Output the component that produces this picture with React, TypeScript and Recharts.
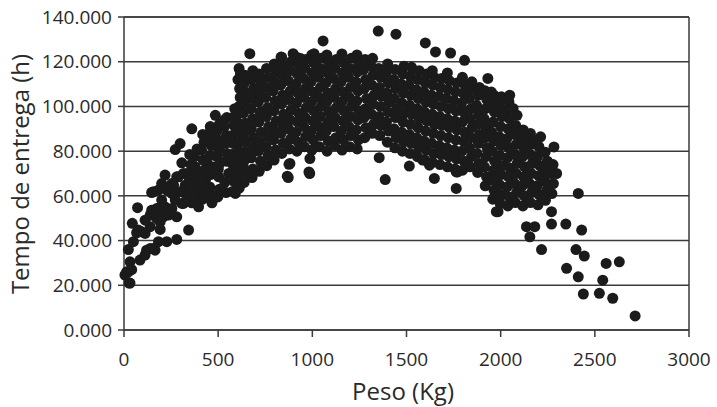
import React from 'react';
import { ScatterChart, Scatter, XAxis, YAxis, CartesianGrid, ReferenceLine, Label } from 'recharts';

type Pt = [number, number];

// peso (kg), tempo de entrega (h)
const risingArm: Pt[] = [
  [5, 24.6], [14, 26], [23, 26], [27, 21], [32, 21], [41, 27], [32, 30.5], [23, 36], [50, 39.5], [44, 47.7],
  [67, 43.5], [72, 54.7], [85, 31.3], [112, 33.5], [112, 43.2], [94, 43.9], [120, 35.7], [139, 36.5], [139, 46.2],
  [156, 36.5], [165, 35.7], [183, 39.5], [192, 48.4], [192, 45], [183, 50.6], [174, 54.4], [218, 55.1], [227, 39.5],
  [236, 51.4], [254, 54.4], [280, 50.6], [280, 40.5], [147, 61.5], [183, 62.6], [263, 64.8], [218, 69.3], [298, 83.4],
  [272, 80.7], [289, 68.5], [307, 74.8], [334, 70], [343, 44.7], [316, 56.6], [360, 56.9], [396, 55.1], [467, 56.9],
  [156, 61.8], [254, 61.1], [298, 61.8], [325, 64.8], [352, 70], [414, 70.7], [369, 57.3], [307, 56.6], [209, 50.6],
  [236, 52.1], [174, 49.9], [200, 58.1], [272, 58.1], [227, 62.6], [334, 59.6], [396, 61.1], [432, 67], [503, 68.5],
  [556, 70], [573, 74.5], [503, 73.7], [440, 74.5], [378, 73], [316, 70], [280, 68.5], [254, 65.5], [200, 65.5],
  [183, 54.4], [147, 53.6], [139, 51.4], [112, 49.1], [76, 44.7], [360, 90], [458, 91], [485, 96], [534, 94],
];

const leftBand: Pt[] = [
  [352, 62], [346, 66.5], [356, 74], [349, 78.5],
  [378, 60], [386, 64.5], [381, 69], [374, 77.5], [388, 81],
  [418, 58.5], [424, 62], [414, 66], [427, 71.5], [420, 76], [412, 80.5], [425, 84], [418, 87.5],
  [462, 60.5], [455, 64], [460, 69.5], [467, 73], [457, 78], [464, 82.5], [453, 86], [461, 89.5],
  [498, 59.5], [507, 63], [501, 72], [494, 77.5], [505, 81], [499, 85], [493, 89], [506, 92],
  [542, 61.5], [535, 66], [541, 75.5], [547, 79], [538, 83.5], [544, 87], [533, 91], [546, 95],
  [577, 62], [585, 66.5], [580, 71], [574, 75.5], [586, 79], [579, 83.5], [573, 87], [584, 91.5], [577, 95], [588, 99],
  [612, 63.5], [604, 68], [609, 72.5], [616, 76], [605, 80.5], [613, 84], [607, 88.5], [615, 92], [603, 96.5],
  [611, 100], [617, 104], [605, 112], [611, 117],
];

const coreLeft: Pt[] = [
  [638, 66], [644, 70.5], [635, 75], [641, 79.5], [646, 84], [637, 88], [643, 92.5], [634, 97], [640, 101.5], [647, 106], [636, 110], [642, 114],
  [678, 68.5], [684, 72], [675, 77], [682, 81.5], [687, 86], [676, 90], [683, 94.5], [674, 99], [681, 103.5], [688, 108], [677, 112], [684, 116],
  [718, 71], [725, 75.5], [714, 80], [721, 84], [728, 88.5], [716, 93], [723, 97.5], [713, 102], [720, 106], [727, 110.5], [717, 114.5],
  [758, 73.5], [765, 78], [754, 82], [762, 86.5], [768, 91], [756, 95.5], [763, 99.5], [752, 104], [760, 108.5], [767, 113], [757, 117],
  [797, 76], [805, 80.5], [794, 85], [802, 89], [808, 93.5], [796, 98], [803, 102.5], [792, 107], [800, 111], [807, 115.5], [798, 119],
  [838, 79], [845, 83.5], [834, 88], [842, 92], [848, 96.5], [836, 101], [843, 105], [832, 109.5], [840, 114], [847, 118], [837, 122],
  [878, 81], [885, 85.5], [874, 90], [882, 94], [888, 98.5], [876, 103], [883, 107], [872, 111.5], [880, 116], [887, 120],
  [918, 80], [925, 84], [914, 88.5], [922, 93], [928, 97], [916, 101.5], [923, 106], [913, 110], [920, 114.5], [927, 118.5], [917, 122],
  [958, 82], [965, 86.5], [954, 91], [962, 95], [968, 99.5], [956, 104], [963, 108], [952, 112.5], [960, 117], [967, 121],
  [998, 80.5], [1005, 85], [994, 89], [1002, 93.5], [1008, 98], [996, 102], [1003, 106.5], [992, 111], [1000, 115], [1007, 119.5], [997, 123],
  [1038, 82], [1045, 87], [1034, 91], [1042, 95.5], [1048, 100], [1036, 104], [1043, 108.5], [1032, 113], [1040, 117], [1047, 121.5],
  [1078, 80], [1085, 84.5], [1074, 89], [1082, 93], [1088, 97.5], [1076, 102], [1083, 106], [1072, 110.5], [1080, 115], [1087, 119], [1077, 123],
  [1118, 82.5], [1125, 86], [1114, 91], [1122, 95], [1128, 99.5], [1116, 104], [1123, 108], [1112, 112.5], [1120, 117], [1127, 121],
  [1158, 80.5], [1165, 85], [1154, 89], [1162, 93.5], [1168, 98], [1156, 102], [1163, 106.5], [1152, 111], [1160, 115], [1167, 119.5], [1157, 123.5],
  [1198, 82], [1205, 87], [1194, 91], [1202, 95.5], [1208, 100], [1196, 104], [1203, 108.5], [1192, 113], [1200, 117], [1207, 121.5],
  [1238, 81], [1245, 85], [1234, 89.5], [1242, 94], [1248, 98], [1236, 102.5], [1243, 107], [1232, 111], [1240, 115.5], [1247, 119], [1237, 123],
];

const coreRight: Pt[] = [
  [1278, 86], [1285, 90.5], [1274, 95], [1282, 99], [1288, 103.5], [1276, 108], [1283, 112], [1272, 116.5], [1280, 121],
  [1318, 88], [1325, 92], [1314, 96.5], [1322, 101], [1328, 105], [1316, 109.5], [1323, 114], [1312, 118], [1320, 121.5],
  [1358, 87], [1365, 91.5], [1354, 95.5], [1362, 100], [1368, 104.5], [1356, 108.5], [1363, 113], [1352, 117],
  [1398, 84], [1405, 89], [1394, 93], [1402, 97.5], [1408, 102], [1396, 106], [1403, 110.5], [1392, 115], [1400, 119],
  [1438, 81.5], [1445, 86], [1434, 90], [1442, 95], [1448, 99], [1436, 103.5], [1443, 108], [1432, 112], [1440, 116.5],
  [1478, 80], [1485, 84], [1474, 88.5], [1482, 93], [1488, 97], [1476, 101.5], [1483, 106], [1472, 110], [1480, 114.5], [1487, 118],
  [1518, 79], [1525, 83.5], [1514, 87.5], [1522, 92], [1528, 96.5], [1516, 100.5], [1523, 105], [1512, 109.5], [1520, 113.5], [1527, 117.5],
  [1558, 77.5], [1565, 81.5], [1554, 86], [1562, 90.5], [1568, 94.5], [1556, 99], [1563, 103.5], [1552, 107.5], [1560, 112], [1567, 116],
  [1598, 76], [1605, 80.5], [1594, 84.5], [1602, 89], [1608, 93.5], [1596, 97.5], [1603, 102], [1592, 106.5], [1600, 110.5], [1607, 114.5],
  [1638, 75], [1645, 79], [1634, 83.5], [1642, 88], [1648, 92], [1636, 96.5], [1643, 101], [1632, 105], [1640, 109.5], [1647, 113], [1637, 116],
  [1678, 74], [1685, 78.5], [1674, 82.5], [1682, 87], [1688, 91.5], [1676, 95.5], [1683, 100], [1672, 104.5], [1680, 108.5], [1687, 112.5],
  [1718, 73], [1725, 77.5], [1714, 81.5], [1722, 86], [1728, 90.5], [1716, 94.5], [1723, 99], [1712, 103.5], [1720, 107.5], [1727, 111.5], [1717, 115],
  [1758, 72], [1765, 76.5], [1754, 80.5], [1762, 85], [1768, 89.5], [1756, 93.5], [1763, 98], [1752, 102.5], [1760, 106.5], [1767, 110.5],
  [1798, 71.5], [1805, 75.5], [1794, 80], [1802, 84.5], [1808, 88.5], [1796, 93], [1803, 97.5], [1792, 101.5], [1800, 106], [1807, 110], [1797, 113],
  [1838, 73], [1845, 77.5], [1834, 81.5], [1842, 86], [1848, 90.5], [1836, 94.5], [1843, 99], [1832, 103.5], [1840, 107.5], [1847, 111],
  [1878, 70.5], [1885, 74.5], [1874, 79], [1882, 83.5], [1888, 87.5], [1876, 92], [1883, 96.5], [1872, 100.5], [1880, 105], [1887, 108.5],
];

const fallingSide: Pt[] = [
  [1918, 64.5], [1925, 68.5], [1914, 73], [1922, 77.5], [1928, 81.5], [1916, 86], [1923, 90.5], [1912, 94.5], [1920, 99], [1927, 103], [1917, 107],
  [1958, 58.5], [1965, 62.5], [1954, 67], [1962, 71.5], [1968, 75.5], [1956, 80], [1963, 84.5], [1952, 88.5], [1960, 93], [1967, 97.5], [1957, 101.5], [1964, 105],
  [1998, 56.5], [2005, 60.5], [1994, 65], [2002, 69.5], [2008, 73.5], [1996, 78], [2003, 82.5], [1992, 86.5], [2000, 91], [2007, 95.5], [1997, 99.5], [2004, 103],
  [2038, 55.5], [2045, 59.5], [2034, 64], [2042, 68.5], [2048, 72.5], [2036, 77], [2043, 81.5], [2032, 85.5], [2040, 90], [2047, 94.5], [2037, 98.5], [2044, 102],
  [2078, 57], [2085, 61.5], [2074, 65.5], [2082, 70], [2088, 74.5], [2076, 78.5], [2083, 83], [2072, 87.5], [2080, 91.5], [2087, 96],
  [2118, 55.5], [2125, 60], [2114, 64.5], [2122, 68.5], [2128, 73], [2116, 77.5], [2123, 81.5], [2112, 86], [2120, 89.5],
  [2158, 57], [2165, 61.5], [2154, 65.5], [2162, 70], [2168, 74.5], [2156, 78.5], [2163, 83], [2152, 86.5],
  [2198, 56], [2205, 60.5], [2194, 64.5], [2202, 69], [2208, 73.5], [2196, 77.5], [2203, 82], [2192, 85],
  [2238, 58], [2245, 62.5], [2234, 66.5], [2242, 71], [2248, 75.5], [2236, 79.5],
  [2272, 61], [2280, 65.5], [2268, 70], [2278, 74],
];

const upperOutliers: Pt[] = [
  [668, 123.6], [1057, 129.3], [1350, 133.7], [1444, 132.3], [1600, 128.4], [1654, 124.4], [1734, 123.9],
  [1808, 120.6], [1932, 112.5], [834, 122.1], [898, 123.6], [938, 121.4], [1009, 123.6], [614, 108], [618, 114.7],
  [716, 113.2], [1950, 106.5], [2004, 104.3], [2048, 105], [2066, 99.1], [2075, 89.4], [2137, 83.4], [2158, 87.9],
  [2212, 86.4], [2283, 81.9],
];

const lowerOutliers: Pt[] = [
  [881, 74.5], [872, 68.2], [876, 74.1], [867, 68.8], [982, 70.7], [987, 76.7], [986, 70], [680, 68.2], [591, 66.3],
  [591, 61.1], [787, 76.7], [733, 73.7], [645, 71.5], [1355, 77.1], [1515, 73.3], [1387, 67.3], [1586, 76],
  [1622, 73.7], [1648, 67.8], [1764, 63.3], [1772, 70.7], [1764, 70.7], [1968, 67], [1968, 59.6], [1977, 52.9],
  [1986, 52.9], [2297, 70],
];

const tail: Pt[] = [
  [2412, 61.1], [2270, 52.9], [2270, 47.4], [2346, 47.4], [2430, 44.7], [2137, 46.2], [2181, 46.2], [2155, 41.7],
  [2217, 36], [2400, 36], [2444, 33.1], [2350, 27.6], [2412, 23.8], [2560, 29.8], [2630, 30.5], [2542, 22.3],
  [2439, 16.1], [2524, 16.4], [2595, 14.2], [2714, 6.3],
];

const xTicks = [0, 500, 1000, 1500, 2000, 2500, 3000];
const yTicks = [0, 20, 40, 60, 80, 100, 120, 140];

const points = [...risingArm, ...leftBand, ...coreLeft, ...coreRight, ...fallingSide, ...upperOutliers, ...lowerOutliers, ...tail]
  .map(([peso, tempo]) => ({ peso, tempo }));

const lineColor = '#3a3a3a';
const textColor = '#2a2a2a';
const font = "'Open Sans', sans-serif";

const Dot = (props: any) => <circle cx={props.cx} cy={props.cy} r={5.5} fill="#1b1b1b" />;

const App = () => {
  return (
    <div style={{ position: 'absolute', left: 0, top: 0, background: '#fff' }}>
      <ScatterChart width={717} height={407} margin={{ top: 17, right: 28, bottom: 0, left: 0 }}>
        <CartesianGrid vertical={false} stroke={lineColor} strokeWidth={1.5} />
        <XAxis
          type="number"
          dataKey="peso"
          domain={[0, 3000]}
          ticks={xTicks}
          height={77}
          tickSize={7}
          tickMargin={16}
          axisLine={{ stroke: lineColor, strokeWidth: 1.5 }}
          tickLine={{ stroke: lineColor, strokeWidth: 1.5 }}
          tick={{ fill: textColor, fontSize: 19, fontFamily: font }}
        >
          <Label
            content={() => (
              <text x={403} y={400} textAnchor="middle" fill={textColor} fontSize={24} fontFamily={font}>
                Peso (Kg)
              </text>
            )}
          />
        </XAxis>
        <YAxis
          type="number"
          dataKey="tempo"
          domain={[0, 140]}
          ticks={yTicks}
          width={124}
          tickSize={6}
          tickMargin={6}
          tickFormatter={(v: number) => v.toFixed(3)}
          axisLine={{ stroke: lineColor, strokeWidth: 1.5 }}
          tickLine={{ stroke: lineColor, strokeWidth: 1.5 }}
          tick={{ fill: textColor, fontSize: 19, fontFamily: font }}
        >
          <Label
            content={() => (
              <text x={29} y={174} transform="rotate(-90 29 174)" textAnchor="middle" fill={textColor} fontSize={24} fontFamily={font}>
                Tempo de entrega (h)
              </text>
            )}
          />
        </YAxis>
        <ReferenceLine x={3000} stroke={lineColor} strokeWidth={1.5} />
        <ReferenceLine y={140} stroke={lineColor} strokeWidth={1.5} />
        <Scatter data={points} shape={Dot} isAnimationActive={false} />
      </ScatterChart>
    </div>
  );
};

export default App;
